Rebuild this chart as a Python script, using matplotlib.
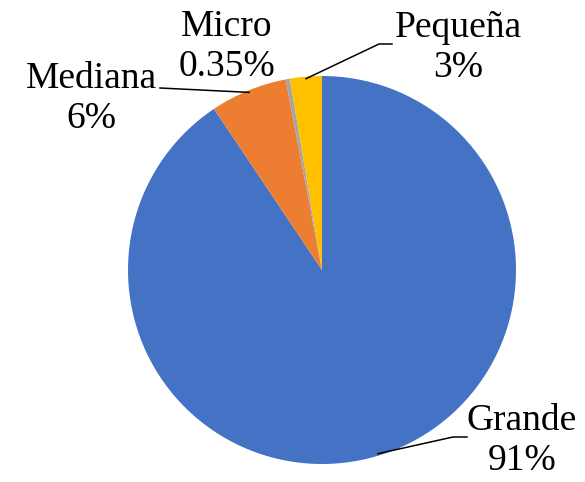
import numpy as np
import matplotlib
matplotlib.use("Agg")
import matplotlib.pyplot as plt

# datos (orden horario desde las 12)
categorias = ["Grande", "Mediana", "Micro", "Pequeña"]
valores = [90.6, 6.4, 0.35, 2.65]
etiquetas = ["91%", "6%", "0.35%", "3%"]
colores = ["#4472C4", "#ED7D31", "#A5A5A5", "#FFC000"]

W, H = 585, 482
fig = plt.figure(figsize=(W / 100, H / 100), dpi=100)
ax = fig.add_axes([0, 0, 1, 1])

cx, cy, r = 322, H - 270, 194
wedges, _ = ax.pie(valores, colors=colores, startangle=90, counterclock=False,
                   center=(cx, cy), radius=r, frame=True,
                   wedgeprops=dict(linewidth=0))
ax.set_xlim(0, W); ax.set_ylim(0, H); ax.set_aspect("equal"); ax.axis("off")

FONT = dict(family="Liberation Serif", fontsize=27, ha="center", va="center",
            multialignment="center", linespacing=1.22)

# posiciones de texto (pixeles desde arriba) y codo de la guia
pos = {"Grande": (522, 441), "Mediana": (91, 99), "Micro": (227, 47), "Pequeña": (458, 48)}
codo = {"Grande": [(453, 437), (467, 437)], "Mediana": [(160, 88)],
        "Pequeña": [(379, 44), (392, 44)]}

for w, cat, lab in zip(wedges, categorias, etiquetas):
    x, y = pos[cat]
    ax.text(x, H - y, f"{cat}\n{lab}", **FONT)
    if cat in codo:
        th = np.deg2rad((w.theta1 + w.theta2) / 2)
        ax0 = cx + (r - 2) * np.cos(th); ay0 = cy + (r - 2) * np.sin(th)
        xs = [ax0] + [p[0] for p in codo[cat]]
        ys = [ay0] + [H - p[1] for p in codo[cat]]
        ax.plot(xs, ys, color="black", lw=1.1)

fig.savefig("out.png", dpi=100, facecolor="white")
